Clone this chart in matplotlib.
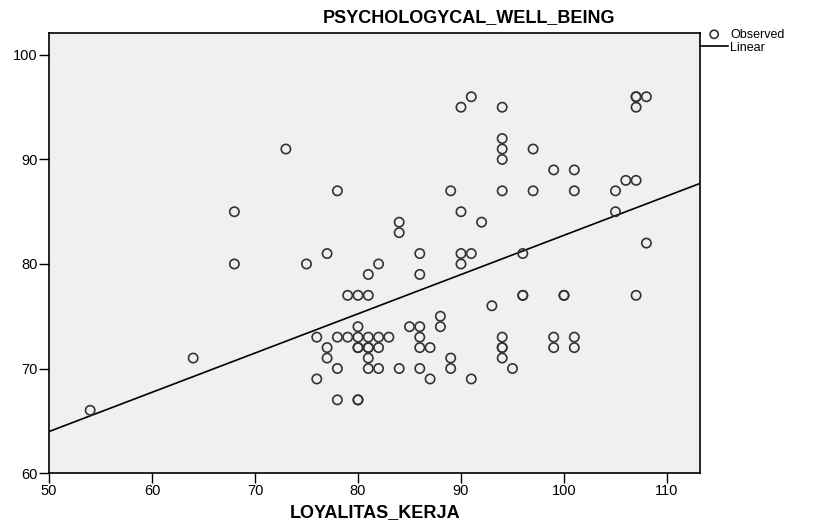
import numpy as np
import matplotlib
matplotlib.use("Agg")
import matplotlib.pyplot as plt

plt.rcParams["font.family"] = ["Liberation Sans", "DejaVu Sans"]

loyalitas = [54, 64, 68, 68, 73, 75, 76, 76, 77, 77, 77,
             78, 78, 78, 78, 79, 79,
             80, 80, 80, 80, 80, 80, 80,
             81, 81, 81, 81, 81, 81, 81,
             82, 82, 82, 82, 83, 84, 84, 84, 85,
             86, 86, 86, 86, 86, 86, 87, 87, 88, 88,
             89, 89, 89, 90, 90, 90, 90, 91, 91, 91, 92, 93,
             94, 94, 94, 94, 94, 94, 94, 94, 94, 95,
             96, 96, 96, 97, 97, 99, 99, 99, 100, 100,
             101, 101, 101, 101, 105, 105, 106,
             107, 107, 107, 107, 107, 108, 108]
pwb = [66, 71, 85, 80, 91, 80, 73, 69, 81, 72, 71,
       87, 73, 70, 67, 77, 73,
       77, 74, 73, 72, 72, 67, 67,
       79, 77, 73, 72, 72, 71, 70,
       80, 73, 72, 70, 73, 84, 83, 70, 74,
       81, 79, 74, 73, 72, 70, 72, 69, 75, 74,
       87, 71, 70, 95, 85, 81, 80, 96, 81, 69, 84, 76,
       95, 92, 91, 90, 87, 73, 72, 72, 71, 70,
       81, 77, 77, 91, 87, 89, 73, 72, 77, 77,
       89, 87, 73, 72, 87, 85, 88,
       96, 96, 95, 88, 77, 96, 82]

x = np.array(loyalitas, dtype=float)
y = np.array(pwb, dtype=float)
b, a = np.polyfit(x, y, 1)

fig = plt.figure(figsize=(8.23, 5.24), dpi=100)
ax = fig.add_axes([0.0595, 0.0973, 0.791, 0.8397])
ax.set_facecolor("#f0f0f0")

ax.scatter(x, y, s=45, facecolors="none", edgecolors="#333333",
           linewidths=1.2, label="Observed", zorder=3)
xl = np.array([50, 113.2])
ax.plot(xl, a + b * xl, color="black", lw=1.2, label="Linear", zorder=2)

ax.set_xlim(50, 113.2)
ax.set_ylim(60, 102.1)
ax.set_xticks([50, 60, 70, 80, 90, 100, 110])
ax.set_yticks([60, 70, 80, 90, 100])
ax.tick_params(direction="out", length=7, width=1, labelsize=10.5,
               colors="black", pad=1)
for s in ax.spines.values():
    s.set_linewidth(1.2)

fig.text(0.456, 0.022, "LOYALITAS_KERJA", fontsize=13, fontweight="bold",
         ha="center", va="center")
fig.text(0.57, 0.966, "PSYCHOLOGYCAL_WELL_BEING", fontsize=13,
         fontweight="bold", ha="center", va="center")

leg = fig.legend(loc="upper left", bbox_to_anchor=(0.845, 0.955),
                 frameon=False, fontsize=9, handlelength=2.2,
                 handletextpad=0.2, labelspacing=0.1, borderaxespad=0)
leg.legend_handles[0].set_sizes([35])

fig.savefig("out.png", dpi=100)
